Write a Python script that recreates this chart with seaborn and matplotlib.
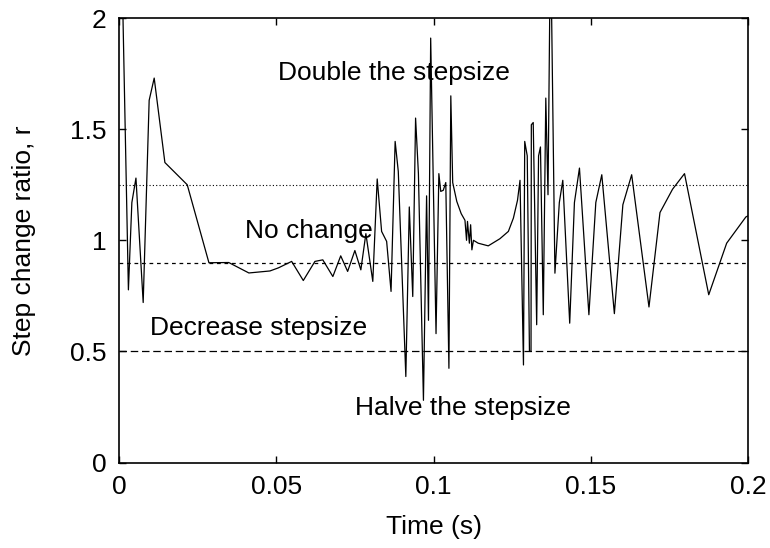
import matplotlib
matplotlib.use("Agg")
import matplotlib.pyplot as plt
import seaborn as sns
import pandas as pd

# Step change ratio r over simulation time
time_s = [0.0010, 0.0030, 0.0041, 0.0054, 0.0077, 0.0096, 0.0112, 0.0146, 0.0217,
          0.0286, 0.0349, 0.0413, 0.0480, 0.0507, 0.0549, 0.0586, 0.0623, 0.0648,
          0.0680, 0.0705, 0.0727, 0.0750, 0.0769, 0.0785, 0.0807, 0.0821, 0.0835,
          0.0851, 0.0865, 0.0878, 0.0888, 0.0912, 0.0923, 0.0934, 0.0943, 0.0952,
          0.0968, 0.0978, 0.0984, 0.0991, 0.1008, 0.1017, 0.1023, 0.1031, 0.1039,
          0.1049, 0.1055, 0.1061, 0.1074, 0.1088, 0.1100, 0.1105, 0.1108, 0.1114,
          0.1118, 0.1122, 0.1127, 0.1142, 0.1174, 0.1211, 0.1238, 0.1254, 0.1267,
          0.1275, 0.1286, 0.1290, 0.1298, 0.1305, 0.1310, 0.1311, 0.1317, 0.1328,
          0.1334, 0.1340, 0.1349, 0.1357, 0.1364, 0.1372, 0.1386, 0.1400, 0.1411,
          0.1433, 0.1448, 0.1464, 0.1494, 0.1516, 0.1535, 0.1575, 0.1602, 0.1630,
          0.1685, 0.1720, 0.1760, 0.1798, 0.1875, 0.1932, 0.1993, 0.2000]
ratio = [2.20, 0.777, 1.17, 1.28, 0.72, 1.63, 1.73, 1.35, 1.25,
         0.899, 0.90, 0.853, 0.862, 0.876, 0.905, 0.819, 0.905, 0.912,
         0.837, 0.93, 0.86, 0.954, 0.867, 1.03, 0.815, 1.276, 1.04,
         0.995, 0.77, 1.445, 1.31, 0.387, 1.15, 0.747, 1.55, 1.30,
         0.28, 1.20, 0.64, 1.91, 0.58, 1.30, 1.22, 1.225, 1.26,
         0.424, 1.65, 1.26, 1.175, 1.12, 1.09, 1.00, 1.085, 0.987,
         1.07, 0.957, 1.00, 0.987, 0.975, 1.007, 1.04, 1.10, 1.18,
         1.27, 0.439, 1.445, 1.38, 0.50, 0.50, 1.52, 1.53, 0.62,
         1.38, 1.42, 0.665, 1.64, 1.205, 2.40, 0.852, 1.17, 1.27,
         0.627, 1.17, 1.325, 0.665, 1.17, 1.295, 0.67, 1.16, 1.295,
         0.70, 1.125, 1.23, 1.30, 0.755, 0.987, 1.105, 1.11]

# Decision thresholds for the step size controller
threshold_levels = [1.25, 0.9, 0.5]
threshold_styles = [(0, (1, 2)), (0, (3, 3)), (0, (6, 3))]
threshold_widths = [0.8, 0.9, 0.9]

# Region annotations: label, x, y
annotations = [
    ("Double the stepsize", 0.0506, 1.755),
    ("No change", 0.0400, 1.043),
    ("Decrease stepsize", 0.0100, 0.606),
    ("Halve the stepsize", 0.0750, 0.245),
]

x_ticks = [0, 0.05, 0.1, 0.15, 0.2]
x_tick_labels = ["0", "0.05", "0.1", "0.15", "0.2"]
y_ticks = [0, 0.5, 1, 1.5, 2]
y_tick_labels = ["0", "0.5", "1", "1.5", "2"]

sns.set_theme(style="ticks")
plt.rcParams["font.family"] = ["Liberation Sans", "DejaVu Sans"]
FS = 19

df = pd.DataFrame({"t": time_s, "r": ratio})

fig = plt.figure(figsize=(7.7, 5.48), dpi=100)
ax = fig.add_axes([0.1545, 0.156, 0.817, 0.811])

for lvl, ls, lw in zip(threshold_levels, threshold_styles, threshold_widths):
    ax.axhline(lvl, color="black", linestyle=ls, linewidth=lw, zorder=1)

sns.lineplot(data=df, x="t", y="r", sort=False, estimator=None,
             color="black", linewidth=0.9, ax=ax, zorder=2)

for label, x, y in annotations:
    ax.text(x, y, label, fontsize=FS, ha="left", va="center", color="black")

ax.set_xlim(0, 0.2)
ax.set_ylim(0, 2)
ax.set_xticks(x_ticks)
ax.set_xticklabels(x_tick_labels)
ax.set_yticks(y_ticks)
ax.set_yticklabels(y_tick_labels)
ax.set_xlabel("Time (s)", fontsize=FS, color="black")
ax.set_ylabel("Step change ratio, r", fontsize=FS, color="black")
ax.xaxis.set_label_coords(0.5, -0.117)
ax.yaxis.set_label_coords(-0.132, 0.5)

ax.tick_params(direction="in", length=5, width=1, top=True, right=True,
               labelsize=FS, pad=9, colors="black")
for sp in ax.spines.values():
    sp.set_visible(True)
    sp.set_color("black")
    sp.set_linewidth(1.2)

fig.savefig("out.png", dpi=100)
